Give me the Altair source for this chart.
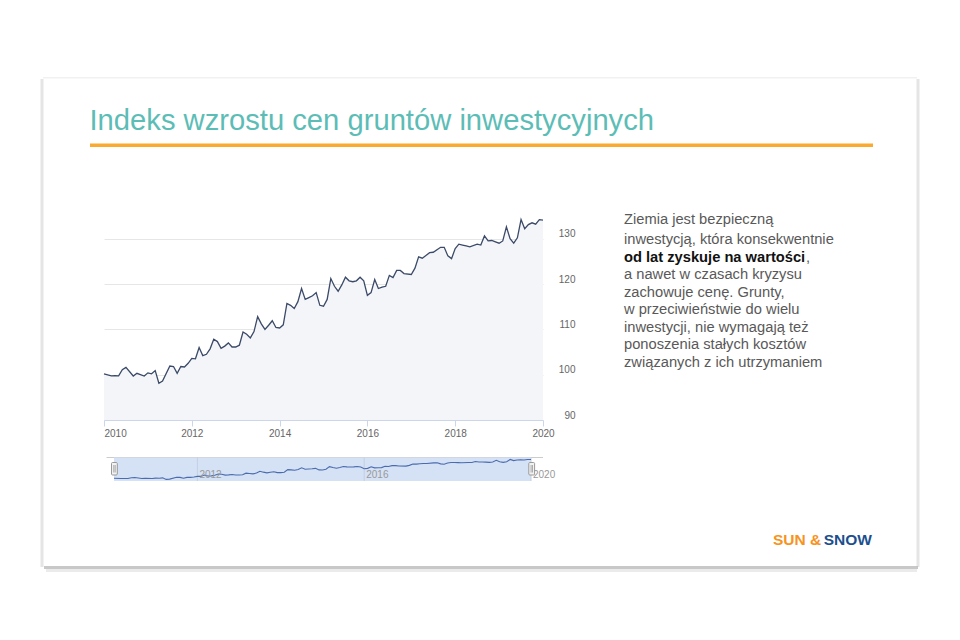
import altair as alt
import pandas as pd

# ---------------- data ----------------
months = [0, 2, 3, 4, 5, 6, 8, 9, 11, 12,
          13, 14, 15, 16, 18, 19, 20, 21, 22, 23,
          24, 25, 26, 27, 28, 29, 30, 31, 32, 33,
          34, 35, 36, 37, 38, 39, 40, 41, 42, 43,
          44, 45, 46, 47, 48, 49, 50, 51, 52, 53,
          54, 55, 56, 57, 58, 59, 60, 61, 62, 63,
          64, 65, 66, 67, 68, 69, 70, 71, 72, 73,
          74, 75, 76, 77, 78, 79, 80, 81, 82, 84,
          85, 86, 87, 88, 89, 90, 92, 93, 94, 95,
          96, 97, 98, 99, 100, 102, 103, 104, 105, 106,
          107, 108, 109, 110, 111, 112, 113, 114, 115, 116,
          117, 118, 119, 120]
index_values = [100.2, 99.75, 99.8, 99.75, 101.1, 101.6, 99.7, 100.3, 99.7, 100.4,
                100.2, 100.9, 98.1, 98.6, 101.9, 101.8, 100.3, 101.8, 101.7, 102.5,
                103.6, 103.5, 106.0, 104.2, 104.5, 105.7, 107.8, 107.3, 105.8, 106.3,
                107.0, 106.1, 106.1, 106.5, 109.4, 108.9, 108.1, 109.5, 112.8, 111.2,
                110.0, 110.9, 111.9, 110.4, 110.3, 111.0, 115.7, 115.3, 114.6, 116.1,
                119.0, 116.6, 117.0, 117.4, 118.1, 115.3, 115.1, 116.6, 121.2, 119.5,
                118.4, 119.8, 121.5, 120.7, 120.5, 120.7, 121.5, 120.7, 117.5, 118.1,
                121.0, 119.0, 119.3, 119.5, 121.9, 121.4, 123.0, 123.0, 122.3, 122.1,
                123.5, 126.0, 125.7, 126.3, 126.9, 127.0, 128.1, 128.1, 126.2, 125.6,
                127.8, 128.8, 128.6, 128.4, 128.2, 128.8, 128.6, 130.6, 129.5, 129.6,
                129.3, 129.0, 129.5, 132.6, 130.0, 129.0, 130.2, 134.2, 132.2, 133.1,
                133.5, 133.2, 134.2, 134.1]
x_ticks = [2010, 2012, 2014, 2016, 2018, 2020]
y_ticks = [90, 100, 110, 120, 130]
nav_ticks = [2012, 2016, 2020]
nav_labels = ["2012", "2016", "2020"]

title_text = "Indeks wzrostu cen gruntów inwestycyjnych"
body_lines = [
    "Ziemia jest bezpieczną",
    "inwestycją, która konsekwentnie",
    "od lat zyskuje na wartości",
    "a nawet w czasach kryzysu",
    "zachowuje cenę. Grunty,",
    "w przeciwieństwie do wielu",
    "inwestycji, nie wymagają też",
    "ponoszenia stałych kosztów",
    "związanych z ich utrzymaniem",
]

df = pd.DataFrame({"t": [2010 + m / 12 for m in months], "v": index_values})
nav_df = pd.DataFrame({"t": nav_ticks, "label": nav_labels})

# ---------------- layout helpers ----------------
OX, OY = 104, 216        # plot origin on the page
W, H = 439, 204          # plot size
FONT = "Liberation Sans"


def ax(x):
    return x - OX


def ay(y):
    return y - OY


def rect(x1, x2, y1, y2, **kw):
    return alt.Chart(pd.DataFrame({"a": [0]})).mark_rect(**kw).encode(
        x=alt.value(ax(x1)), x2=alt.value(ax(x2)),
        y=alt.value(ay(y1)), y2=alt.value(ay(y2)))


def rule(x1, x2, y1, y2, **kw):
    return alt.Chart(pd.DataFrame({"a": [0]})).mark_rule(**kw).encode(
        x=alt.value(ax(x1)), x2=alt.value(ax(x2)),
        y=alt.value(ay(y1)), y2=alt.value(ay(y2)))


def text(s, x, y, **kw):
    return alt.Chart(pd.DataFrame({"s": [s]})).mark_text(font=FONT, baseline="alphabetic", **kw).encode(
        x=alt.value(ax(x)), y=alt.value(ay(y)), text="s:N")


# ---------------- main plot ----------------
main_x_scale = alt.Scale(domain=[2010, 2020], nice=False, zero=False)
main_y_scale = alt.Scale(domain=[90, 135], nice=False, zero=False)

area = alt.Chart(df).mark_area(color="#f4f5f8").encode(
    x=alt.X("t:Q", scale=main_x_scale, title=None,
            axis=alt.Axis(values=x_ticks, format="d", grid=False,
                          domainColor="#ccd6eb", tickColor="#ccd6eb", tickSize=6,
                          labelFontSize=10, labelColor="#666666", labelFont=FONT,
                          labelPadding=2,
                          labelAlign={"condition": {"test": "datum.value == 2010", "value": "left"},
                                      "value": "center"})),
    y=alt.Y("v:Q", scale=main_y_scale, title=None,
            axis=alt.Axis(orient="right", values=y_ticks, grid=True, gridColor="#e6e6e6",
                          domain=False, ticks=False, labelAlign="right", labelPadding=32,
                          labelBaseline="middle", labelOffset=-5,
                          labelFontSize=10, labelColor="#666666", labelFont=FONT)),
    y2=alt.datum(90),
)

line = alt.Chart(df).mark_line(color="#3b4a68", strokeWidth=1.3).encode(
    x=alt.X("t:Q", scale=main_x_scale, axis=None),
    y=alt.Y("v:Q", scale=main_y_scale, axis=None),
)

# ---------------- navigator ----------------
nav_x_scale = alt.Scale(domain=[2010, 2020], range=[ax(114), ax(531)], nice=False, zero=False)
nav_y_scale = alt.Scale(domain=[97, 134.5], range=[ay(480), ay(459.3)], nice=False, zero=False)

nav_outline = rule(106.5, 543, 457.5, 457.5, color="#cccccc", strokeWidth=1)
nav_mask = rect(114, 531, 457.5, 481, color="#d5e1f4")
nav_grid = alt.Chart(nav_df).mark_rule(color="#c3cfe4", strokeWidth=1).encode(
    x=alt.X("t:Q", scale=nav_x_scale, axis=None),
    y=alt.value(ay(457.5)), y2=alt.value(ay(481)))
nav_line = alt.Chart(df).mark_line(color="#4a6cae", strokeWidth=1.1).encode(
    x=alt.X("t:Q", scale=nav_x_scale, axis=None),
    y=alt.Y("v:Q", scale=nav_y_scale, axis=None))
nav_text = alt.Chart(nav_df).mark_text(font=FONT, align="left", baseline="alphabetic", dx=2,
                                        fontSize=10, color="#999999").encode(
    x=alt.X("t:Q", scale=nav_x_scale, axis=None),
    y=alt.value(ay(478)), text="label:N")

handles = []
for hx in (111.5, 528.8):
    handles.append(rect(hx, hx + 5.8, 462.5, 475, color="#f2f2f2", stroke="#999999",
                        strokeWidth=1, cornerRadius=1))
    handles.append(rule(hx + 2.3, hx + 2.3, 465, 472.5, color="#999999", strokeWidth=0.8))
    handles.append(rule(hx + 3.7, hx + 3.7, 465, 472.5, color="#999999", strokeWidth=0.8))

# ---------------- slide decorations ----------------
shadow = [
    rect(44, 918, 566, 569, color="#9a9a9a", opacity=0.55),
    rect(46, 917, 569, 572, color="#9a9a9a", opacity=0.2),
    rect(40.5, 43.5, 79, 567, color="#b5b5b5", opacity=0.35),
    rect(916.5, 919.5, 79, 567, color="#b5b5b5", opacity=0.35),
    rect(43, 917, 77, 78.5, color="#cfcfcf", opacity=0.3),
]

title = text(title_text, 89.5, 129.5, fontSize=29.2, color="#5cbdb6", align="left")
orange = rule(90, 873, 145.3, 145.3, color="#f9aa2f", strokeWidth=3.6)

body_baselines = [223.5, 244, 261.5, 279, 296.5, 314, 331.5, 349, 366.5]
body = []
for i, (s, yb) in enumerate(zip(body_lines, body_baselines)):
    if i == 2:
        body.append(text(s, 624, yb, fontSize=14.7, fontWeight="bold", color="#111111", align="left"))
        body.append(text(",", 806, yb, fontSize=14.7, color="#595959", align="left"))
    else:
        body.append(text(s, 624, yb, fontSize=14.7, color="#595959", align="left"))

logo = [
    text("SUN &", 773, 545, fontSize=15.5, fontWeight="bold", color="#f7931e", align="left"),
    text("SNOW", 872, 545, fontSize=15.5, fontWeight="bold", color="#1c4f8f", align="right"),
]

chart = alt.layer(
    area, line,
    *shadow, title, orange, *body, *logo,
    nav_outline, nav_mask, nav_grid, nav_line, nav_text, *handles,
).resolve_scale(
    x="independent", y="independent"
).properties(
    width=W, height=H,
    padding={"left": OX, "top": OY, "right": 960 - OX - W, "bottom": 640 - OY - H},
    autosize=alt.AutoSizeParams(type="none"),
    background="white",
).configure_view(stroke=None)

chart.save("out.html", embed_options={"renderer": "svg", "actions": False})
